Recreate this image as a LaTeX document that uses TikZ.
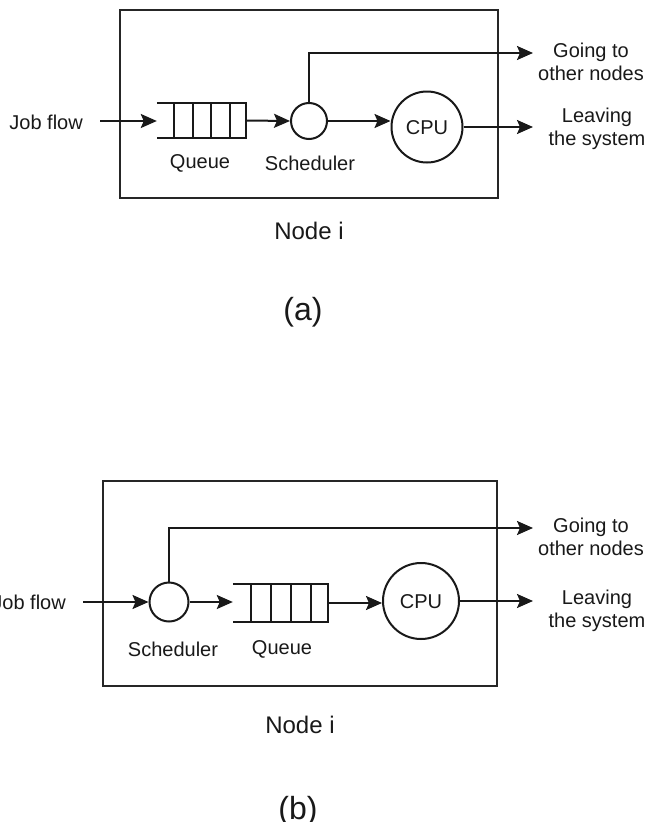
\documentclass[tikz,border=0pt]{standalone}
\usepackage{fontspec}
\setmainfont{Liberation Sans}
\usetikzlibrary{arrows.meta,calc}
\tikzset{
  ln/.style={line width=2pt, black!90},
  arr/.style={ln, -{Stealth[length=16pt,width=14pt,inset=3pt]}},
  boxst/.style={draw=black!85, line width=2.2pt, inner sep=0pt},
  circst/.style={draw=black!90, circle, line width=2pt, inner sep=0pt},
  lbl/.style={font=\fontsize{20}{23}\selectfont, text=black!90, inner sep=0pt, align=center},
  capst/.style={font=\fontsize{24}{28}\selectfont, text=black!90, inner sep=0pt, anchor=base},
  subst/.style={font=\fontsize{32}{36}\selectfont, text=black!90, inner sep=0pt, anchor=base},
  qst/.style={inner sep=0pt, draw=none}
}
\newcommand{\queuedraw}[1]{%
  \draw[ln] (#1.north west) -- (#1.north east) -- (#1.south east) -- (#1.south west);
  \foreach \f in {0.19,0.40,0.61,0.82}
    \draw[ln] ($(#1.north west)!\f!(#1.north east)$) -- ($(#1.south west)!\f!(#1.south east)$);
}
\begin{document}
\begin{tikzpicture}[x=1pt,y=-1pt]
\clip (0,0) rectangle (649,822);
\fill[white] (0,0) rectangle (649,822);

% ---------------- (a) ----------------
\node[boxst, minimum width=378pt, minimum height=188pt] (boxA) at (309,104) {};
\node[lbl, anchor=east] (jfA) at (83,122) {Job flow};
\coordinate (jfsA) at (100,121);
\node[qst, minimum width=89pt, minimum height=35pt] (qA) at (201.5,120.5) {};
\queuedraw{qA}
\node[circst, minimum size=36pt] (sA) at (309,121) {};
\node[circst, minimum size=71pt] (cA) at (427,127) {};
\node[lbl] (cpuA) at (427,128) {CPU};
\node[lbl] (qlA) at (200,163) {Queue};
\node[lbl] (slA) at (310,163) {Scheduler};
\coordinate (goA) at (533,53);
\coordinate (lvA) at (533,127);
\node[lbl] (gtA) at (591,62) {Going to\\other nodes};
\node[lbl] (lsA) at (597,129) {Leaving\\the system};
\draw[arr] (jfsA) -- (jfsA -| qA.west);
\draw[arr] (qA.east) -- (sA.west);
\draw[arr] (sA.east) -- (sA.east -| cA.west);
\draw[arr] (sA.north) |- (goA);
\draw[arr] (cA.east) -- (lvA);
\node[capst] (niA) at (309,239) {Node i};
\node[subst] (lbA) at (303,320) {(a)};

% ---------------- (b) ----------------
\node[boxst, minimum width=394pt, minimum height=205pt] (boxB) at (300,583.5) {};
\node[lbl, anchor=east] (jfB) at (66,602) {Job flow};
\coordinate (jfsB) at (83,602);
\node[circst, minimum size=39pt] (sB) at (169,602) {};
\node[qst, minimum width=95pt, minimum height=38pt] (qB) at (280.5,603) {};
\queuedraw{qB}
\node[circst, minimum size=76pt] (cB) at (421,601) {};
\node[lbl] (cpuB) at (421,602) {CPU};
\node[lbl] (slB) at (173,649) {Scheduler};
\node[lbl] (qlB) at (282,649) {Queue};
\coordinate (goB) at (533,528);
\coordinate (lvB) at (533,601);
\node[lbl] (gtB) at (591,537) {Going to\\other nodes};
\node[lbl] (lsB) at (597,611) {Leaving\\the system};
\draw[arr] (jfsB) -- (sB.west);
\draw[arr] (sB.east) -- (sB.east -| qB.west);
\draw[arr] (qB.east) -- (qB.east -| cB.west);
\draw[arr] (sB.north) |- (goB);
\draw[arr] (cB.east) -- (lvB);
\node[capst] (niB) at (300,733) {Node i};
\node[subst] (lbB) at (298,819) {(b)};
\end{tikzpicture}
\end{document}
